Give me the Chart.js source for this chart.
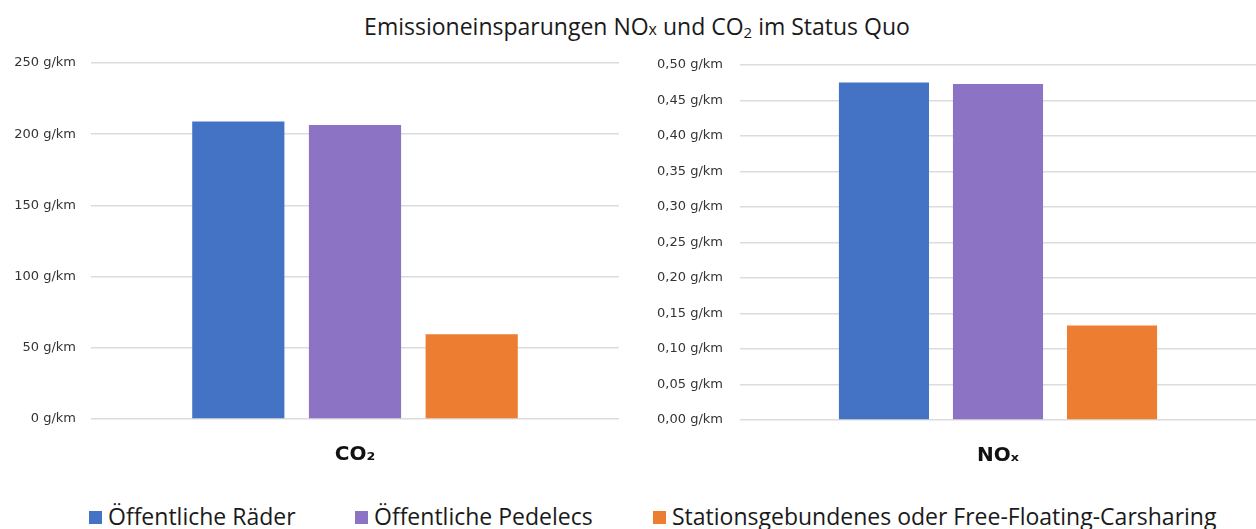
<!DOCTYPE html>
<html>
<head>
<meta charset="utf-8">
<script src="https://cdn.jsdelivr.net/npm/chart.js@4.4.1/dist/chart.umd.min.js"></script>
<style>
  html, body { margin: 0; padding: 0; background: #fff; }
  body { width: 1256px; height: 529px; position: relative; overflow: hidden; }
  #title {
    position: absolute; left: 9px; top: 10px; width: 1256px; text-align: center;
    font-family: "Liberation Sans Narrow", "Open Sans", sans-serif; font-size: 23px; color: #1a1a1a;
  }
  #title sub { font-size: 15px; vertical-align: -3px; line-height: 0; }
  #title .x { font-size: 16px; }
  .box { position: absolute; top: 40px; width: 628px; height: 440px; }
  #legend {
    position: absolute; top: 500px; left: 0; width: 1256px; height: 28px;
    font-family: "Liberation Sans Narrow", "Open Sans", sans-serif; font-size: 23px; color: #1a1a1a;
  }
  .item { position: absolute; top: 0; white-space: nowrap; }
  .item i { display: inline-block; width: 13px; height: 13px; margin-right: 6px; vertical-align: 1px; }
</style>
</head>
<body>
<div id="title">Emissioneinsparungen NO<span class="x">x</span> und CO<sub>2</sub> im Status Quo</div>
<div class="box" style="left:0"><canvas id="co2Chart" width="628" height="440"></canvas></div>
<div class="box" style="left:628px"><canvas id="noxChart" width="628" height="440"></canvas></div>
<div id="legend"></div>

<script>
/* =========================================
   DATA
========================================= */
const seriesNames = ["Öffentliche Räder", "Öffentliche Pedelecs", "Stationsgebundenes oder Free-Floating-Carsharing"];
const seriesColors = ["#4472c4", "#8c73c4", "#ed7d31"];

const co2Label = ["CO₂"];
const co2Values = [209, 206.5, 59.5];     // g/km
const co2Ticks = [0, 50, 100, 150, 200, 250];

const noxLabel = ["NOₓ"];
const noxValues = [0.475, 0.473, 0.133];  // g/km
const noxTicks = [0, 0.05, 0.10, 0.15, 0.20, 0.25, 0.30, 0.35, 0.40, 0.45, 0.50];

/* =========================================
   LEGEND (html)
========================================= */
const legendX = [89, 355, 653];
document.getElementById("legend").innerHTML = seriesNames.map((name, i) =>
  `<span class="item" style="left:${legendX[i]}px"><i style="background:${seriesColors[i]}"></i>${name}</span>`
).join("");

/* =========================================
   CHART BUILDER
========================================= */
function makeChart(id, label, values, ticks, fmt, axisWidth, tickPad, pad, xHeight) {
  return new Chart(document.getElementById(id), {
    type: "bar",
    data: {
      labels: label,
      datasets: values.map((v, i) => ({
        label: seriesNames[i],
        data: [v],
        backgroundColor: seriesColors[i],
        categoryPercentage: 0.663,
        barPercentage: 0.79
      }))
    },
    options: {
      responsive: false,
      animation: false,
      layout: { padding: pad },
      plugins: { legend: { display: false }, tooltip: { enabled: false } },
      scales: {
        x: {
          grid: { display: false },
          border: { display: false },
          ticks: { color: "#111", padding: 16, font: { family: "DejaVu Sans", size: 20, weight: "bold" } },
          afterFit: s => { s.height = xHeight; }
        },
        y: {
          min: ticks[0],
          max: ticks[ticks.length - 1],
          afterBuildTicks: s => { s.ticks = ticks.map(v => ({ value: v })); },
          grid: { color: "#dcdcdc", lineWidth: 1.5, drawTicks: false },
          border: { display: false },
          ticks: {
            color: "#333", padding: tickPad,
            font: { family: "DejaVu Sans", size: 13 },
            callback: fmt
          },
          afterFit: s => { s.width = axisWidth; }
        }
      }
    }
  });
}

makeChart("co2Chart", co2Label, co2Values, co2Ticks,
  v => `${v} g/km`, 91, 15, { top: 23, right: 9, left: 0, bottom: 0 }, 61);

makeChart("noxChart", noxLabel, noxValues, noxTicks,
  v => `${v.toFixed(2).replace(".", ",")} g/km`, 112, 17, { top: 24, right: 0, left: 0, bottom: 0 }, 60);
</script>
</body>
</html>
